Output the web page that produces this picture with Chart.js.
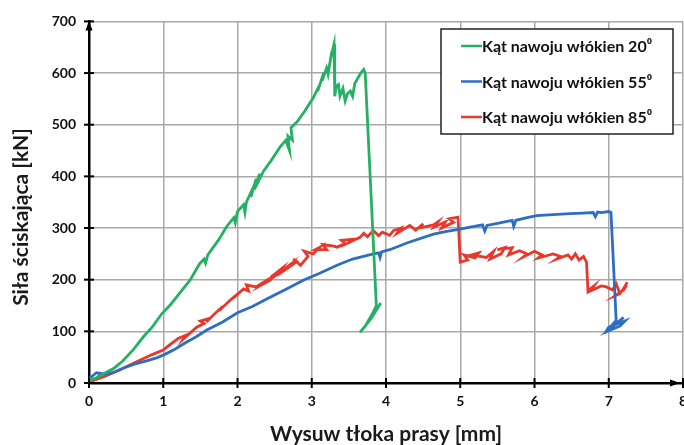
<!DOCTYPE html>
<html>
<head>
<meta charset="utf-8">
<script src="https://cdn.jsdelivr.net/npm/chart.js@4"></script>
<style>
  body { margin: 0; background: #fff; }
  #wrap { width: 684px; height: 445px; position: relative; overflow: hidden; }
</style>
</head>
<body>
<div id="wrap"><canvas id="myChart"></canvas></div>
<script>
// series labels
const seriesLabels = ['Kąt nawoju włókien 20⁰', 'Kąt nawoju włókien 55⁰', 'Kąt nawoju włókien 85⁰'];

// 20 deg - displacement [mm] / force [kN]
const greenX = [0, 0.1, 0.2, 0.33, 0.45, 0.6, 0.73, 0.85, 0.98, 1.1, 1.2, 1.36, 1.49, 1.55, 1.57, 1.6, 1.75, 1.85, 1.95, 1.97, 2.0, 2.08, 2.1, 2.12, 2.2, 2.18, 2.25, 2.22, 2.3, 2.28, 2.35, 2.45, 2.57, 2.65, 2.7, 2.68, 2.74, 2.72, 2.8, 2.9, 3.02, 3.1, 3.08, 3.16, 3.14, 3.2, 3.22, 3.27, 3.25, 3.30, 3.31, 3.33, 3.36, 3.38, 3.42, 3.45, 3.48, 3.52, 3.55, 3.58, 3.62, 3.66, 3.70, 3.72, 3.87, 3.82, 3.72, 3.65, 3.80, 3.93];
const greenY = [5, 10, 18, 28, 42, 65, 89, 108, 134, 152, 170, 199, 231, 240, 232, 248, 278, 302, 320, 310, 332, 345, 330, 350, 375, 360, 395, 375, 405, 390, 410, 430, 456, 470, 450, 478, 470, 494, 505, 525, 552, 575, 565, 600, 585, 610, 598, 642, 625, 656, 555, 575, 578, 555, 570, 546, 560, 565, 555, 580, 590, 600, 607, 600, 150, 135, 110, 98, 125, 155];

// 55 deg
const blueX = [0, 0.05, 0.1, 0.18, 0.12, 0.25, 0.2, 0.3, 0.45, 0.6, 0.75, 0.9, 1.0, 1.15, 1.3, 1.45, 1.58, 1.8, 2.0, 2.2, 2.4, 2.66, 2.9, 3.1, 3.34, 3.55, 3.83, 3.9, 3.92, 3.94, 4.05, 4.3, 4.64, 4.8, 5.0, 5.15, 5.3, 5.33, 5.36, 5.5, 5.7, 5.72, 5.75, 5.9, 6.03, 6.25, 6.48, 6.65, 6.79, 6.82, 6.85, 6.9, 7.0, 7.03, 7.1, 6.95, 7.0, 7.22, 7.15, 6.98, 7.2];
const blueY = [8, 14, 20, 18, 13, 21, 16, 19, 28, 36, 42, 48, 54, 65, 78, 90, 102, 118, 136, 148, 163, 182, 200, 212, 228, 240, 250, 252, 243, 254, 258, 272, 288, 293, 298, 302, 306, 294, 305, 309, 315, 303, 315, 320, 324, 326, 328, 329, 330, 322, 331, 330, 332, 330, 121, 97, 108, 120, 110, 100, 127];

// 85 deg
const redX = [0, 0.2, 0.4, 0.55, 0.7, 0.85, 1.0, 1.1, 1.05, 1.2, 1.3, 1.27, 1.45, 1.55, 1.5, 1.62, 1.58, 1.7, 1.8, 1.75, 1.9, 2.0, 1.95, 2.08, 2.15, 2.12, 2.25, 2.35, 2.3, 2.44, 2.5, 2.45, 2.6, 2.55, 2.7, 2.65, 2.8, 2.75, 2.85, 2.95, 2.9, 3.02, 3.1, 3.05, 3.2, 3.15, 3.3, 3.34, 3.45, 3.4, 3.55, 3.5, 3.65, 3.7, 3.75, 3.83, 3.9, 3.95, 4.05, 4.1, 4.2, 4.15, 4.32, 4.4, 4.5, 4.45, 4.64, 4.7, 4.65, 4.8, 4.75, 4.91, 4.85, 4.97, 5.0, 5.1, 5.05, 5.2, 5.25, 5.15, 5.35, 5.45, 5.4, 5.55, 5.6, 5.5, 5.7, 5.65, 5.8, 5.9, 5.85, 6.0, 6.1, 6.05, 6.25, 6.35, 6.3, 6.45, 6.5, 6.55, 6.6, 6.66, 6.70, 6.72, 6.8, 6.75, 6.9, 6.97, 7.05, 7.1, 7.15, 7.1, 7.2, 7.24, 7.18, 7.25];
const redY = [2, 12, 24, 35, 45, 55, 64, 75, 70, 86, 92, 85, 108, 115, 120, 125, 118, 135, 148, 140, 160, 172, 165, 182, 178, 190, 186, 195, 188, 199, 210, 205, 222, 212, 228, 220, 235, 240, 228, 245, 255, 250, 262, 258, 258, 268, 265, 263, 270, 276, 278, 272, 282, 290, 283, 295, 285, 292, 286, 295, 300, 290, 305, 296, 308, 300, 306, 312, 302, 312, 300, 311, 318, 321, 234, 238, 248, 242, 252, 248, 243, 255, 240, 250, 262, 258, 262, 248, 256, 250, 244, 255, 248, 242, 250, 245, 240, 248, 240, 250, 238, 245, 234, 179, 188, 178, 188, 186, 180, 192, 173, 170, 180, 189, 178, 195];

// axis ticks
const xTicks = [0, 1, 2, 3, 4, 5, 6, 7, 8];
const yTicks = [0, 100, 200, 300, 400, 500, 600, 700];

const colors = ['#26b064', '#2e6ec2', '#e8372b'];
const FONT = 'Lato';

function toPoints(xs, ys) {
  return xs.map((x, i) => ({x: x, y: ys[i]}));
}

// black tick marks across the axes, arrow heads, y title, boxed legend
const decor = {
  id: 'decor',
  afterDraw(chart) {
    const ctx = chart.ctx;
    const xs = chart.scales.x, ys = chart.scales.y;
    const x0 = xs.getPixelForValue(0), y0 = ys.getPixelForValue(0);
    ctx.save();
    ctx.strokeStyle = '#000';
    ctx.lineWidth = 2;
    xTicks.forEach(v => {
      const px = xs.getPixelForValue(v);
      ctx.beginPath(); ctx.moveTo(px, y0 - 5); ctx.lineTo(px, y0 + 5); ctx.stroke();
    });
    yTicks.forEach(v => {
      const py = ys.getPixelForValue(v);
      ctx.beginPath(); ctx.moveTo(x0 - 5, py); ctx.lineTo(x0 + 5, py); ctx.stroke();
    });
    // arrows
    ctx.fillStyle = '#000';
    const top = ys.getPixelForValue(700);
    ctx.beginPath(); ctx.moveTo(x0, top - 1); ctx.lineTo(x0 - 3.5, top + 9); ctx.lineTo(x0 + 3.5, top + 9); ctx.closePath(); ctx.fill();
    const xe = xs.getPixelForValue(8) - 3;
    ctx.beginPath(); ctx.moveTo(xe, y0); ctx.lineTo(xe - 10, y0 - 3.5); ctx.lineTo(xe - 10, y0 + 3.5); ctx.closePath(); ctx.fill();

    // y title
    ctx.fillStyle = '#1a1a1a';
    ctx.font = 'bold 21px ' + FONT;
    ctx.textAlign = 'center';
    ctx.textBaseline = 'middle';
    ctx.translate(21, 217);
    ctx.rotate(-Math.PI / 2);
    ctx.fillText('Siła ściskająca [kN]', 0, 0);
    ctx.restore();

    // legend box
    ctx.save();
    ctx.fillStyle = '#fff';
    ctx.fillRect(441, 29, 232, 105);
    ctx.strokeStyle = '#222';
    ctx.lineWidth = 1.5;
    ctx.strokeRect(441, 29, 232, 105);
    ctx.font = 'bold 16px ' + FONT;
    ctx.textBaseline = 'middle';
    ctx.textAlign = 'left';
    chart.data.datasets.forEach((ds, i) => {
      const ly = 46 + i * 35.5;
      ctx.strokeStyle = ds.borderColor;
      ctx.lineWidth = 2.5;
      ctx.beginPath(); ctx.moveTo(461, ly); ctx.lineTo(482, ly); ctx.stroke();
      ctx.fillStyle = '#111';
      ctx.fillText(ds.label, 482, ly + 1);
    });
    ctx.restore();
  }
};

const data = {
  datasets: [
    {label: seriesLabels[0], data: toPoints(greenX, greenY), borderColor: colors[0]},
    {label: seriesLabels[1], data: toPoints(blueX, blueY), borderColor: colors[1]},
    {label: seriesLabels[2], data: toPoints(redX, redY), borderColor: colors[2]}
  ].map(ds => Object.assign(ds, {showLine: true, pointRadius: 0, borderWidth: 2.8, tension: 0, fill: false}))
};

const config = {
  type: 'scatter',
  data,
  options: {
    responsive: true,
    maintainAspectRatio: false,
    animation: false,
    layout: {padding: {left: 0, right: 1, top: 20, bottom: 0}},
    plugins: {
      legend: {display: false},
      tooltip: {enabled: false}
    },
    scales: {
      x: {
        type: 'linear',
        min: 0, max: 8,
        afterFit: (scale) => { scale.height = 62; scale.paddingLeft = 0; scale.paddingRight = 0; },
        afterBuildTicks: (scale) => { scale.ticks = xTicks.map(v => ({value: v})); },
        ticks: {color: '#111', padding: 10, font: {family: FONT, weight: 'bold', size: 14}},
        grid: {color: '#a8a8a8', lineWidth: 1.5, drawTicks: false},
        border: {color: '#000', width: 2.5},
        title: {
          display: true,
          text: 'Wysuw tłoka prasy [mm]',
          color: '#1a1a1a',
          font: {family: FONT, weight: 'bold', size: 21, lineHeight: 1},
          padding: {top: 0, bottom: 0}
        }
      },
      y: {
        min: 0, max: 700,
        afterFit: (scale) => { scale.width = 89; },
        afterBuildTicks: (scale) => { scale.ticks = yTicks.map(v => ({value: v})); },
        ticks: {color: '#111', padding: 13, font: {family: FONT, weight: 'bold', size: 14}},
        grid: {color: '#a8a8a8', lineWidth: 1.5, drawTicks: false},
        border: {color: '#000', width: 2.5}
      }
    }
  },
  plugins: [decor]
};

const myChart = new Chart(document.getElementById('myChart'), config);
</script>
</body>
</html>
